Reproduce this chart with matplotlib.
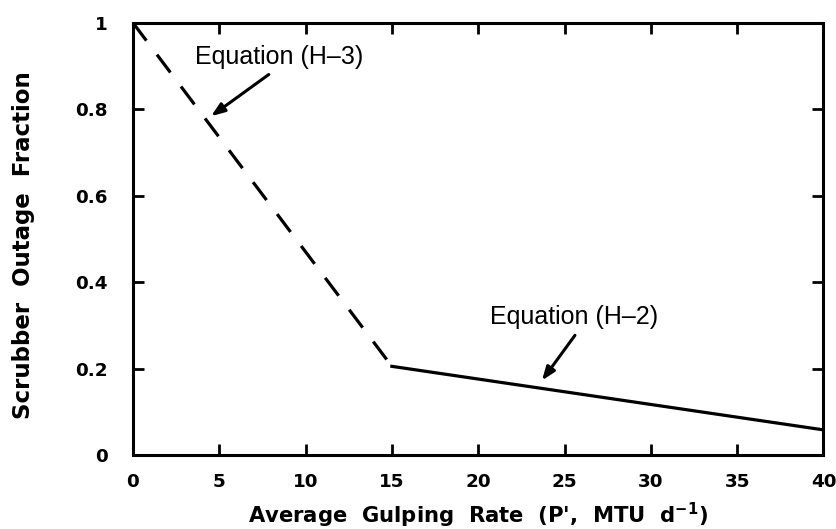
import matplotlib.pyplot as plt

plt.rcParams['font.family'] = ['DejaVu Sans']

# data
h3_x = [0, 15]
h3_y = [1.0, 0.205]
h2_x = [15, 40]
h2_y = [0.205, 0.058]

x_ticks = [0, 5, 10, 15, 20, 25, 30, 35, 40]
y_ticks = [0, 0.2, 0.4, 0.6, 0.8, 1.0]
y_labels = ['0', '0.2', '0.4', '0.6', '0.8', '1']

fig = plt.figure(figsize=(8.36, 5.29), dpi=100)
ax = fig.add_axes([0.159, 0.140, 0.826, 0.817])

ax.plot(h3_x, h3_y, color='black', lw=2.3, dashes=(7, 5.5), solid_capstyle='butt')
ax.plot(h2_x, h2_y, color='black', lw=2.3)

ax.set_xlim(0, 40)
ax.set_ylim(0, 1)
ax.set_xticks(x_ticks)
ax.set_xticklabels([str(v) for v in x_ticks])
ax.set_yticks(y_ticks)
ax.set_yticklabels(y_labels)

for s in ax.spines.values():
    s.set_linewidth(2.2)
ax.tick_params(direction='in', length=8, width=2, top=True, right=True,
               labelsize=13.2)
ax.tick_params(axis='y', pad=18)
ax.tick_params(axis='x', pad=13)
for lab in ax.get_xticklabels() + ax.get_yticklabels():
    lab.set_fontweight('bold')

ax.set_xlabel("Average  Gulping  Rate  (P',  MTU  d$^{\\mathbf{-1}}$)", fontsize=15.2,
              fontweight='bold', labelpad=7)
ax.set_ylabel('Scrubber  Outage  Fraction', fontsize=16.5, fontweight='bold')
ax.yaxis.set_label_coords(-0.142, 0.485)

arrow = dict(arrowstyle='-|>,head_length=0.8,head_width=0.3', color='black', lw=2.2)
ann_font = dict(family=['Liberation Sans', 'DejaVu Sans'], fontsize=18)
ax.annotate('Equation (H–3)', xy=(4.4, 0.78), xytext=(3.6, 0.92),
            va='center', ha='left', **ann_font)
ax.annotate('', xy=(4.4, 0.78), xytext=(8.0, 0.884), arrowprops=arrow)
ax.annotate('Equation (H–2)', xy=(23.6, 0.167), xytext=(20.7, 0.32),
            va='center', ha='left', **ann_font)
ax.annotate('', xy=(23.6, 0.167), xytext=(25.7, 0.282), arrowprops=arrow)

fig.savefig('out.png', dpi=100)
